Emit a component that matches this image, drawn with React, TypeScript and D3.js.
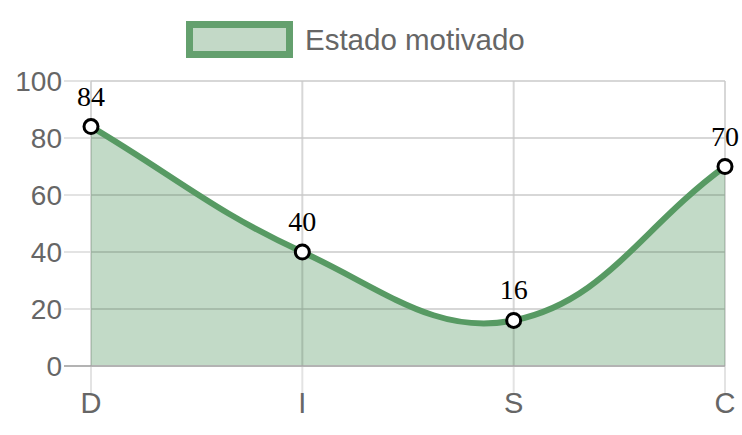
import * as d3 from 'd3';
import React, { useEffect, useRef } from 'react';

const categories = ['D', 'I', 'S', 'C'];
const values = [84, 40, 16, 70];
const yTicks = [0, 20, 40, 60, 80, 100];
const seriesName = 'Estado motivado';

// Chart.js-like spline (tension 0.4) in pixel space
const splinePath = (pts: [number, number][], t = 0.4) => {
  const cps = pts.map((cur, i) => {
    const prev = pts[Math.max(i - 1, 0)];
    const next = pts[Math.min(i + 1, pts.length - 1)];
    const d01 = Math.hypot(cur[0] - prev[0], cur[1] - prev[1]);
    const d12 = Math.hypot(next[0] - cur[0], next[1] - cur[1]);
    let s01 = d01 / (d01 + d12);
    let s12 = d12 / (d01 + d12);
    if (isNaN(s01)) s01 = 0;
    if (isNaN(s12)) s12 = 0;
    const fa = t * s01;
    const fb = t * s12;
    return {
      c1: [cur[0] - fa * (next[0] - prev[0]), cur[1] - fa * (next[1] - prev[1])],
      c2: [cur[0] + fb * (next[0] - prev[0]), cur[1] + fb * (next[1] - prev[1])],
    };
  });
  let p = `M${pts[0][0]},${pts[0][1]}`;
  for (let i = 1; i < pts.length; i++) {
    const a = cps[i - 1].c2;
    const b = cps[i].c1;
    p += `C${a[0]},${a[1]},${b[0]},${b[1]},${pts[i][0]},${pts[i][1]}`;
  }
  return p;
};

const App = () => {
  const ref = useRef<SVGSVGElement>(null);

  useEffect(() => {
    const svg = d3.select(ref.current);
    svg.selectAll('*').remove();

    const left = 91, right = 725, top = 81, bottom = 366;
    const x = d3.scalePoint<string>().domain(categories).range([left, right]);
    const y = d3.scaleLinear().domain([0, 100]).range([bottom, top]);

    const axisFont = 'Arial, "Liberation Sans", sans-serif';

    // horizontal grid
    svg.append('g')
      .selectAll('line')
      .data(yTicks)
      .enter().append('line')
      .attr('x1', left - 27).attr('x2', right)
      .attr('y1', d => y(d)).attr('y2', d => y(d))
      .attr('stroke', d => (d === 0 ? '#b3b3b3' : '#e3e3e3'))
      .attr('stroke-width', 2);

    // vertical grid
    svg.append('g')
      .selectAll('line')
      .data(categories)
      .enter().append('line')
      .attr('x1', d => x(d)!).attr('x2', d => x(d)!)
      .attr('y1', top).attr('y2', bottom + 27)
      .attr('stroke', '#e3e3e3')
      .attr('stroke-width', 2);

    const pts: [number, number][] = values.map((v, i) => [x(categories[i])!, y(v)]);
    const linePath = splinePath(pts);

    // fill
    svg.append('path')
      .attr('d', `${linePath}L${pts[pts.length - 1][0]},${y(0)}L${pts[0][0]},${y(0)}Z`)
      .attr('fill', 'rgba(80,150,95,0.35)');

    // zero line and grid showing through the fill
    svg.append('line')
      .attr('x1', left - 27).attr('x2', right)
      .attr('y1', y(0)).attr('y2', y(0))
      .attr('stroke', '#b3b3b3').attr('stroke-width', 2);
    svg.append('g')
      .selectAll('line')
      .data(categories)
      .enter().append('line')
      .attr('x1', d => x(d)!).attr('x2', d => x(d)!)
      .attr('y1', top).attr('y2', bottom)
      .attr('stroke', 'rgba(0,0,0,0.05)')
      .attr('stroke-width', 2);
    svg.append('g')
      .selectAll('line')
      .data(yTicks.slice(1))
      .enter().append('line')
      .attr('x1', left).attr('x2', right)
      .attr('y1', d => y(d)).attr('y2', d => y(d))
      .attr('stroke', 'rgba(0,0,0,0.05)')
      .attr('stroke-width', 2);

    // line
    svg.append('path')
      .attr('d', linePath)
      .attr('fill', 'none')
      .attr('stroke', '#579a63')
      .attr('stroke-width', 6);

    // points
    svg.append('g')
      .selectAll('circle')
      .data(pts)
      .enter().append('circle')
      .attr('cx', d => d[0]).attr('cy', d => d[1])
      .attr('r', 7)
      .attr('fill', '#fff')
      .attr('stroke', '#000')
      .attr('stroke-width', 3);

    // data labels
    svg.append('g')
      .selectAll('text')
      .data(values)
      .enter().append('text')
      .attr('x', (d, i) => x(categories[i])!)
      .attr('y', d => y(d) - 21)
      .attr('text-anchor', 'middle')
      .attr('font-family', '"Times New Roman", "Liberation Serif", serif')
      .attr('font-size', 28)
      .attr('fill', '#000')
      .text(d => d);

    // y labels
    svg.append('g')
      .selectAll('text')
      .data(yTicks)
      .enter().append('text')
      .attr('x', left - 29)
      .attr('y', d => y(d))
      .attr('dy', '0.35em')
      .attr('text-anchor', 'end')
      .attr('font-family', axisFont)
      .attr('font-size', 28)
      .attr('fill', '#666')
      .text(d => d);

    // x labels
    svg.append('g')
      .selectAll('text')
      .data(categories)
      .enter().append('text')
      .attr('x', d => x(d)!)
      .attr('y', 413)
      .attr('text-anchor', 'middle')
      .attr('font-family', axisFont)
      .attr('font-size', 29)
      .attr('fill', '#666')
      .text(d => d);

    // legend
    svg.append('rect')
      .attr('x', 189.5).attr('y', 24.5)
      .attr('width', 100).attr('height', 30)
      .attr('fill', '#c3d9c7')
      .attr('stroke', '#64a06e')
      .attr('stroke-width', 7);
    svg.append('text')
      .attr('x', 305).attr('y', 50)
      .attr('font-family', axisFont)
      .attr('font-size', 29.5)
      .attr('fill', '#666')
      .text(seriesName);
  }, []);

  return (
    <svg ref={ref} width={742} height={435}
      style={{ position: 'absolute', left: 0, top: 0, background: '#fff' }} />
  );
};

export default App;
